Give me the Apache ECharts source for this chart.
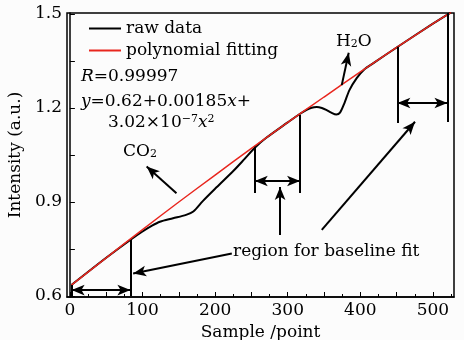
<!DOCTYPE html>
<html>
<head>
<meta charset="utf-8">
<style>
html,body{margin:0;padding:0;background:#fcfcfc}
#chart{width:464px;height:340px}
</style>
<script src="https://cdn.jsdelivr.net/npm/echarts@6.0.0/dist/echarts.min.js"></script>
</head>
<body>
<div id="chart"></div>
<script>
//数据
var sampleLabels = [0, 100, 200, 300, 400, 500];
var sampleTicks = [0, 50, 100, 150, 200, 250, 300, 350, 400, 450, 500];
var sampleMinorTicks = [25, 75, 125, 175, 225, 275, 325, 375, 425, 475, 525];
var intensityLabels = [0.6, 0.9, 1.2, 1.5];
var intensityTicks = [0.6, 0.75, 0.9, 1.05, 1.2, 1.35, 1.5];

var fitX = [2, 50, 100, 150, 200, 250, 300, 350, 400, 450, 500, 525];
var fitY = [0.635, 0.722, 0.812, 0.900, 0.986, 1.071, 1.154, 1.235, 1.315, 1.393, 1.469, 1.505];

var rawX = [2, 50, 85, 100, 112, 124, 142, 160, 170, 183, 202, 225, 240, 255, 270, 300, 316,
    326, 333, 340, 347, 353, 360, 367, 372, 378, 385, 395, 405, 418, 450, 500, 525];
var rawY = [0.635, 0.722, 0.782, 0.806, 0.823, 0.837, 0.848, 0.859, 0.870, 0.903, 0.947, 0.999, 1.036, 1.074, 1.104, 1.154, 1.180,
    1.194, 1.201, 1.203, 1.200, 1.194, 1.185, 1.179, 1.185, 1.215, 1.257, 1.295, 1.322, 1.343, 1.393, 1.469, 1.505];

//拟合区间边界 [x, 下端, 上端]
var boundX = [2.4, 83.3, 254.6, 317, 451, 520];
var boundLow = [0.6, 0.6, 0.929, 0.929, 1.152, 1.155];
var boundHigh = [0.635, 0.779, 1.076, 1.178, 1.395, 1.503];

//双向箭头
var spanFrom = [2.4, 254.6, 451];
var spanTo = [83.3, 317, 520];
var spanY = [0.619, 0.967, 1.216];

//单向箭头 起点 -> 终点
var arrowFromX = [146.8, 374.4, 223, 289.5, 346.9];
var arrowFromY = [0.928, 1.273, 0.736, 0.795, 0.811];
var arrowToX = [105.7, 384, 87.1, 289.5, 475.3];
var arrowToY = [1.013, 1.376, 0.672, 0.948, 1.156];

function pairs(xs, ys){
    return xs.map(function(x, i){ return [x, ys[i]]; });
}

var marks = [];
boundX.forEach(function(x, i){
    marks.push([{coord: [x, boundLow[i]], symbol: 'none'}, {coord: [x, boundHigh[i]], symbol: 'none'}]);
});
spanY.forEach(function(y, i){
    marks.push([{coord: [spanFrom[i], y], symbol: 'arrow'}, {coord: [spanTo[i], y], symbol: 'arrow'}]);
});
arrowFromX.forEach(function(x, i){
    marks.push([{coord: [x, arrowFromY[i]], symbol: 'none'}, {coord: [arrowToX[i], arrowToY[i]], symbol: 'arrow'}]);
});

var font = 'DejaVu Serif';
var myChart = echarts.init(document.getElementById('chart'));

var option = {
    animation: false,
    backgroundColor: '#fcfcfc',
    textStyle: {fontFamily: font, color: '#000'},
    grid: {
        left: 67, right: 10, top: 13, bottom: 43,
        outerBoundsMode: 'none',
        containLabel: false,
        show: true, borderColor: '#000', borderWidth: 1.5, backgroundColor: 'transparent'
    },
    legend: {
        orient: 'vertical',
        left: 83, top: 15,
        itemWidth: 32, itemHeight: 14, itemGap: 5,
        itemStyle: {opacity: 0},
        textStyle: {fontFamily: font, fontSize: 17, color: '#000'},
        data: ['raw data', 'polynomial fitting']
    },
    xAxis: [
        {
            type: 'value', min: -4, max: 529,
            name: 'Sample /point', nameLocation: 'middle', nameGap: 25,
            nameTextStyle: {fontFamily: font, fontSize: 17, color: '#000'},
            axisLine: {onZero: false, lineStyle: {color: '#000', width: 1.5}},
            axisTick: {inside: true, length: 5, customValues: sampleTicks, lineStyle: {color: '#000'}},
            axisLabel: {customValues: sampleLabels, margin: 5, fontFamily: font, fontSize: 17, color: '#000'},
            splitLine: {show: false}
        },
        {
            type: 'value', min: -4, max: 529, position: 'bottom', offset: 0,
            axisLine: {show: false},
            axisTick: {inside: true, length: 3, customValues: sampleMinorTicks, lineStyle: {color: '#000'}},
            axisLabel: {show: false},
            splitLine: {show: false}
        }
    ],
    yAxis: {
        type: 'value', min: 0.597, max: 1.503,
        name: 'Intensity (a.u.)', nameLocation: 'middle', nameGap: 36,
        nameTextStyle: {fontFamily: font, fontSize: 17, color: '#000'},
        axisLine: {lineStyle: {color: '#000', width: 1.5}},
        axisTick: {inside: true, length: 5, customValues: intensityTicks, lineStyle: {color: '#000'}},
        axisLabel: {customValues: intensityLabels, margin: 5, fontFamily: font, fontSize: 17, color: '#000',
            formatter: function(v){ return v.toFixed(1); }},
        splitLine: {show: false}
    },
    series: [
        {
            name: 'raw data',
            type: 'line',
            data: pairs(rawX, rawY),
            symbol: 'none',
            smooth: 0.3,
            lineStyle: {color: '#000', width: 2},
            itemStyle: {color: '#000'},
            z: 2,
            markLine: {
                silent: true,
                symbolSize: [8, 13],
                label: {show: false},
                lineStyle: {color: '#000', width: 2, type: 'solid'},
                emphasis: {disabled: true},
                data: marks
            }
        },
        {
            name: 'polynomial fitting',
            type: 'line',
            data: pairs(fitX, fitY),
            symbol: 'none',
            smooth: 0.3,
            lineStyle: {color: '#e8261e', width: 1.5},
            itemStyle: {color: '#e8261e'},
            z: 3
        }
    ],
    graphic: [
        {type: 'text', left: 81, top: 68, style: {text: '{i|R}=0.99997', font: '17px ' + font, fill: '#000',
            rich: {i: {fontStyle: 'italic', fontSize: 17, fontFamily: font}}}},
        {type: 'text', left: 81, top: 93, style: {text: '{i|y}=0.62+0.00185{i|x}+', font: '17px ' + font, fill: '#000',
            rich: {i: {fontStyle: 'italic', fontSize: 17, fontFamily: font}}}},
        {type: 'text', left: 108, top: 114, style: {text: '3.02×10{sup|−7}{i|x}{sup|2}', font: '17px ' + font, fill: '#000',
            rich: {
                i: {fontStyle: 'italic', fontSize: 17, fontFamily: font},
                sup: {fontSize: 11, fontFamily: font, verticalAlign: 'top', lineHeight: 12}
            }}},
        {type: 'text', left: 123, top: 143, style: {text: 'CO{sub|2}', font: '17px ' + font, fill: '#000',
            rich: {sub: {fontSize: 11, fontFamily: font, verticalAlign: 'bottom', lineHeight: 12}}}},
        {type: 'text', left: 336, top: 33, style: {text: 'H{sub|2}O', font: '17px ' + font, fill: '#000',
            rich: {sub: {fontSize: 11, fontFamily: font, verticalAlign: 'bottom', lineHeight: 12}}}},
        {type: 'text', left: 233, top: 243, style: {text: 'region for baseline fit', font: '17px ' + font, fill: '#000'}}
    ]
};

myChart.setOption(option);
</script>
</body>
</html>
